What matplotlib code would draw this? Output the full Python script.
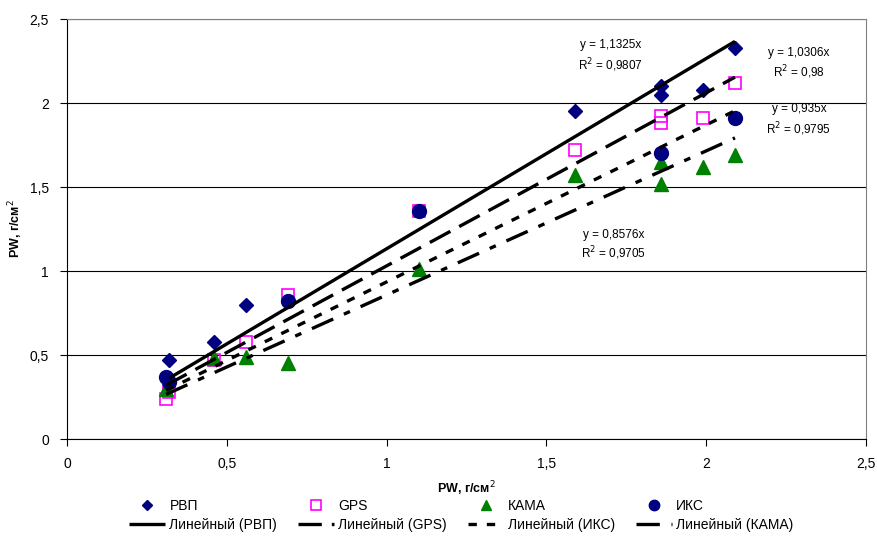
import matplotlib.pyplot as plt
from matplotlib.ticker import FuncFormatter, MultipleLocator
import numpy as np

plt.rcParams['font.family'] = ['Liberation Sans', 'DejaVu Sans']

# измерения PW по четырём методам
x_rvp = [0.32, 0.46, 0.56, 0.69, 1.10, 1.59, 1.86, 1.86, 1.99, 2.09]
y_rvp = [0.47, 0.58, 0.80, 0.82, 1.36, 1.95, 2.10, 2.05, 2.08, 2.33]

x_gps = [0.31, 0.32, 0.46, 0.56, 0.69, 1.10, 1.59, 1.86, 1.86, 1.99, 2.09]
y_gps = [0.24, 0.28, 0.47, 0.58, 0.86, 1.36, 1.72, 1.92, 1.88, 1.91, 2.12]

x_kama = [0.31, 0.46, 0.56, 0.69, 1.10, 1.59, 1.86, 1.86, 1.99, 2.09]
y_kama = [0.30, 0.48, 0.49, 0.45, 1.01, 1.57, 1.65, 1.52, 1.62, 1.69]

x_iks = [0.31, 0.32, 0.69, 1.10, 1.86, 2.09]
y_iks = [0.37, 0.34, 0.82, 1.36, 1.70, 1.91]

# линейные тренды через ноль
k_rvp, r2_rvp = 1.1325, 0.9807
k_gps, r2_gps = 1.0306, 0.98
k_iks, r2_iks = 0.935, 0.9795
k_kama, r2_kama = 0.8576, 0.9705

fig = plt.figure(figsize=(8.77, 5.39), dpi=100)
ax = fig.add_axes([0.0764, 0.1855, 0.9111, 0.7792])

p_rvp, = ax.plot(x_rvp, y_rvp, 'D', color='#000080', markersize=7, linestyle='none', label='РВП')
p_gps, = ax.plot(x_gps, y_gps, 's', markerfacecolor='none', markeredgecolor='#FF00FF',
                 markeredgewidth=1.2, markersize=9, linestyle='none', label='GPS')
p_kama, = ax.plot(x_kama, y_kama, '^', color='#008000', markersize=10, linestyle='none', label='КАМА')
p_iks, = ax.plot(x_iks, y_iks, 'o', color='#000080', markersize=10, linestyle='none', label='ИКС')


def trend(xs, k):
    xx = np.array([min(xs), max(xs)])
    return xx, k * xx


lw = 2.4
xx, yy = trend(x_rvp, k_rvp)
l_rvp, = ax.plot(xx, yy, color='black', lw=lw, solid_capstyle='butt', label='Линейный (РВП)')
xx, yy = trend(x_gps, k_gps)
l_gps, = ax.plot(xx, yy, color='black', lw=lw, dashes=(7, 3), label='Линейный (GPS)')
xx, yy = trend(x_iks, k_iks)
l_iks, = ax.plot(xx, yy, color='black', lw=lw, dashes=(2.5, 3), label='Линейный (ИКС)')
xx, yy = trend(x_kama, k_kama)
l_kama, = ax.plot(xx, yy, color='black', lw=lw, dashes=(7, 3.5, 2, 3.5), label='Линейный (КАМА)')

# подписи уравнений трендов
fs = 8.5
ax.text(1.70, 2.345, f'y = {k_rvp:.4f}x'.replace('.', ','), fontsize=fs, ha='center', va='center')
ax.text(1.70, 2.226, 'R$^2$ = ' + f'{r2_rvp:.4f}'.replace('.', ','), fontsize=fs, ha='center', va='center')
ax.text(2.29, 2.30, f'y = {k_gps:.4f}x'.replace('.', ','), fontsize=fs, ha='center', va='center')
ax.text(2.29, 2.185, 'R$^2$ = ' + f'{r2_gps:.2f}'.replace('.', ','), fontsize=fs, ha='center', va='center')
ax.text(2.29, 1.964, f'y = {k_iks:.3f}x'.replace('.', ','), fontsize=fs, ha='center', va='center')
ax.text(2.29, 1.845, 'R$^2$ = ' + f'{r2_iks:.4f}'.replace('.', ','), fontsize=fs, ha='center', va='center')
ax.text(1.71, 1.214, f'y = {k_kama:.4f}x'.replace('.', ','), fontsize=fs, ha='center', va='center')
ax.text(1.71, 1.107, 'R$^2$ = ' + f'{r2_kama:.4f}'.replace('.', ','), fontsize=fs, ha='center', va='center')

ax.set_xlim(0, 2.5)
ax.set_ylim(0, 2.5)
ax.xaxis.set_major_locator(MultipleLocator(0.5))
ax.yaxis.set_major_locator(MultipleLocator(0.5))
comma = FuncFormatter(lambda v, pos: f'{v:g}'.replace('.', ','))
ax.xaxis.set_major_formatter(comma)
ax.yaxis.set_major_formatter(comma)
ax.tick_params(direction='out', length=5, width=0.8, labelsize=10, pad=8)

ax.grid(axis='y', color='black', lw=0.8)
ax.set_axisbelow(True)
for side in ['left', 'bottom']:
    ax.spines[side].set_color('black')
for side in ['top', 'right']:
    ax.spines[side].set_color('#808080')

ax.set_xlabel('PW, г/см$^2$', fontsize=9, fontweight='bold', labelpad=6)
ax.set_ylabel('PW, г/см$^2$', fontsize=9, fontweight='bold')
ax.yaxis.set_label_coords(-0.052, 0.5)

handles = [p_rvp, l_rvp, p_gps, l_gps, p_kama, l_iks, p_iks, l_kama]
leg = fig.legend(handles, [h.get_label() for h in handles], ncol=4, loc='lower center',
                 bbox_to_anchor=(0.526, -0.01), frameon=False, fontsize=10,
                 columnspacing=1.5, handlelength=2.6, handletextpad=0.3, labelspacing=0.35,
                 markerscale=0.75)

fig.savefig('out.png', dpi=100)
